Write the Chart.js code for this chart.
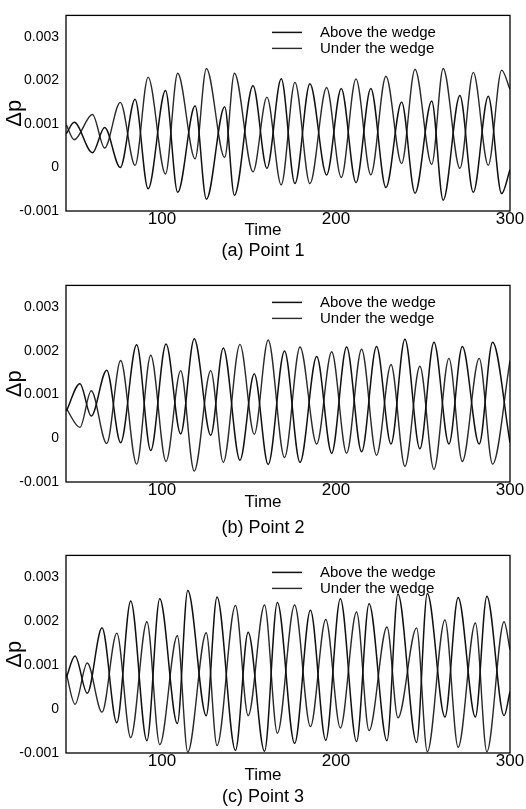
<!DOCTYPE html>
<html>
<head>
<meta charset="utf-8">
<script src="https://cdn.jsdelivr.net/npm/chart.js@4.4.1/dist/chart.umd.min.js"></script>
<style>
  body { margin: 0; background: #fff; }
  .panel { position: relative; width: 526px; }
</style>
</head>
<body>
<div class="panel" style="height:270px"><canvas id="chart1"></canvas></div>
<div class="panel" style="height:270px"><canvas id="chart2"></canvas></div>
<div class="panel" style="height:269px"><canvas id="chart3"></canvas></div>
<script>
// tick labels & names
const xTicks = [100, 200, 300];
const yTicks = [-0.001, 0, 0.001, 0.002, 0.003];
const seriesNames = ['Above the wedge', 'Under the wedge'];
const captions = ['(a) Point 1', '(b) Point 2', '(c) Point 3'];

// Point 1 : peaks / troughs
const time1 = [45, 49.5, 60, 67, 76, 84.5, 92, 102, 109, 119, 125.5, 136, 141.6, 152.3, 160.3, 168.5, 176.4, 185, 194.6, 203, 211.5, 220, 228.7, 237.7, 245.4, 255, 261.6, 271.2, 278.9, 287.5, 295.2, 300];
const above1 = [0.00078, 0.00104, 0.00034, 0.00092, 0.00000, 0.00157, -0.00049, 0.00177, -0.00057, 0.00142, -0.00073, 0.00140, -0.00064, 0.00188, -0.00002, 0.00204, -0.00037, 0.00193, -0.00017, 0.00182, -0.00035, 0.00182, -0.00046, 0.00151, -0.00059, 0.00153, -0.00075, 0.00166, -0.00057, 0.00164, -0.00060, -0.00005];
const under1 = [0.00098, 0.00064, 0.00122, 0.00045, 0.00150, 0.00005, 0.00208, -0.00015, 0.00217, 0.00020, 0.00228, 0.00023, 0.00217, -0.00010, 0.00162, -0.00040, 0.00196, -0.00037, 0.00184, -0.00023, 0.00204, -0.00017, 0.00210, 0.00009, 0.00226, 0.00007, 0.00228, -0.00002, 0.00219, 0.00005, 0.00224, 0.00180];

// Point 2
const time2 = [45, 52.8, 59.3, 68.2, 76.2, 85.4, 93.5, 102.3, 110.7, 118.5, 128, 135.2, 144.8, 153, 161, 170.4, 179.3, 188.9, 197.5, 206.1, 214.7, 223.3, 231.6, 239.6, 248.2, 256.3, 264.9, 272.6, 282.3, 290, 300];
const above2 = [0.00062, 0.00125, 0.00051, 0.00156, -0.00010, 0.00214, -0.00028, 0.00216, 0.00010, 0.00228, 0.00007, 0.00207, -0.00050, 0.00148, -0.00060, 0.00200, -0.00055, 0.00187, -0.00034, 0.00209, -0.00031, 0.00210, -0.00013, 0.00227, -0.00024, 0.00220, -0.00013, 0.00210, -0.00013, 0.00220, -0.00010];
const under2 = [0.00068, 0.00025, 0.00109, -0.00012, 0.00178, -0.00059, 0.00190, -0.00053, 0.00155, -0.00075, 0.00155, -0.00055, 0.00215, 0.00009, 0.00225, -0.00044, 0.00209, -0.00013, 0.00198, -0.00034, 0.00204, -0.00039, 0.00169, -0.00064, 0.00165, -0.00071, 0.00183, -0.00053, 0.00183, -0.00059, 0.00178];

// Point 3
const time3 = [45, 50, 57, 65.5, 74, 82, 91.3, 98.7, 108.8, 114.8, 125.4, 131.6, 142.2, 149.5, 158.9, 166.3, 176.2, 185.3, 194.1, 202.5, 211.8, 219, 229.3, 235.6, 246.3, 252.5, 262.6, 270.2, 280.1, 286.7, 296.6, 300];
const above3 = [0.00072, 0.00121, 0.00036, 0.00185, -0.00031, 0.00246, -0.00072, 0.00251, -0.00033, 0.00270, -0.00015, 0.00255, -0.00094, 0.00175, -0.00096, 0.00243, -0.00078, 0.00225, -0.00071, 0.00251, -0.00074, 0.00240, -0.00072, 0.00262, -0.00076, 0.00263, -0.00018, 0.00254, -0.00018, 0.00257, -0.00015, 0.00040];
const under3 = [0.00080, 0.00011, 0.00105, -0.00007, 0.00173, -0.00065, 0.00199, -0.00081, 0.00167, -0.00098, 0.00174, -0.00083, 0.00236, -0.00015, 0.00237, -0.00055, 0.00237, -0.00040, 0.00204, -0.00043, 0.00221, -0.00049, 0.00187, -0.00020, 0.00185, -0.00097, 0.00203, -0.00087, 0.00196, -0.00097, 0.00199, 0.00135];

Chart.defaults.font.family = '"Liberation Sans", Arial, sans-serif';
Chart.defaults.color = '#000';

// box round the plot area
const framePlugin = {
  id: 'frame',
  afterDraw(chart) {
    const { ctx, chartArea } = chart;
    ctx.save();
    ctx.strokeStyle = '#000';
    ctx.lineWidth = 1.3;
    ctx.strokeRect(chartArea.left, chartArea.top, chartArea.right - chartArea.left, chartArea.bottom - chartArea.top);
    ctx.restore();
  }
};

// legend sits inside the plot, top right
const insideLegend = {
  id: 'insideLegend',
  afterDraw(chart) {
    const { ctx, chartArea } = chart;
    ctx.save();
    ctx.font = '15px "Liberation Sans", Arial, sans-serif';
    ctx.textBaseline = 'middle';
    chart.data.datasets.forEach((ds, i) => {
      const y = chartArea.top + 17 + i * 16;
      ctx.strokeStyle = ds.borderColor;
      ctx.lineWidth = ds.borderWidth;
      ctx.beginPath();
      ctx.moveTo(272, y);
      ctx.lineTo(302, y);
      ctx.stroke();
      ctx.fillStyle = '#000';
      ctx.fillText(ds.label, 320, y);
    });
    ctx.restore();
  }
};

const toPoints = (times, vals) => times.map((t, i) => ({ x: t, y: vals[i] }));

const drawPanel = (id, times, above, under, caption, box) => {
  new Chart(document.getElementById(id), {
    type: 'line',
    data: {
      datasets: [
        { label: seriesNames[0], data: toPoints(times, above), borderColor: '#111', borderWidth: 1.5 },
        { label: seriesNames[1], data: toPoints(times, under), borderColor: '#2a2a2a', borderWidth: 1.4 }
      ]
    },
    options: {
      responsive: true,
      maintainAspectRatio: false,
      animation: false,
      layout: { padding: { left: 16, right: 16, top: box.top, bottom: 0 } },
      elements: {
        point: { radius: 0 },
        line: { cubicInterpolationMode: 'monotone', fill: false }
      },
      plugins: {
        legend: { display: false },
        tooltip: { enabled: false },
        subtitle: {
          display: true, position: 'bottom', text: 'Time',
          font: { size: 17 }, padding: { top: box.timeGap - 11, bottom: 0 }
        },
        title: {
          display: true, position: 'bottom', text: caption,
          font: { size: 18, weight: 'normal' }, padding: { top: box.capGap, bottom: box.bottomGap }
        }
      },
      scales: {
        x: {
          type: 'linear', min: 44.8, max: 300,
          grid: { display: false, drawTicks: false },
          border: { display: false },
          ticks: { font: { size: 17 }, padding: -2, maxRotation: 0 },
          afterBuildTicks: s => { s.ticks = xTicks.map(v => ({ value: v })); },
          afterFit: s => { s.height = 19; }
        },
        y: {
          min: -0.001, max: 0.0035,
          grid: { display: false, drawTicks: false },
          border: { display: false },
          ticks: { font: { size: 14 }, padding: 7, callback: v => v === 0 ? '0' : v.toFixed(3) },
          afterBuildTicks: s => { s.ticks = yTicks.map(v => ({ value: v })); },
          afterFit: s => { s.width = 50; },
          title: { display: true, text: 'Δp', font: { size: 22 }, padding: { top: -14, bottom: 0 } }
        }
      }
    },
    plugins: [framePlugin, insideLegend]
  });
};

drawPanel('chart1', time1, above1, under1, captions[0], { top: 4, timeGap: 1, capGap: 0, bottomGap: 8 });
drawPanel('chart2', time2, above2, under2, captions[1], { top: 6, timeGap: 2, capGap: 5, bottomGap: 1 });
drawPanel('chart3', time3, above3, under3, captions[2], { top: 7, timeGap: 4, capGap: 1, bottomGap: 1 });
</script>
</body>
</html>
